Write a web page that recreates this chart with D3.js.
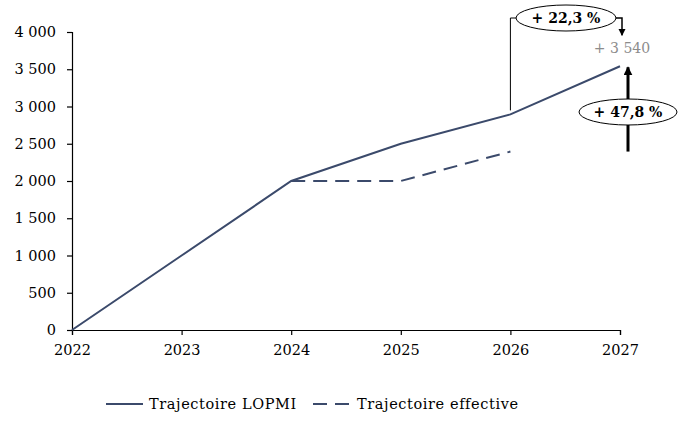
<!DOCTYPE html>
<html><head><meta charset="utf-8">
<script src="https://cdn.jsdelivr.net/npm/d3@7"></script>
<style>body{margin:0;background:#fff}svg{display:block}</style>
</head><body><svg id="c" width="680" height="426"></svg>
<script>
const years = [2022, 2023, 2024, 2025, 2026, 2027];
const lopmi = [0, 1000, 2000, 2500, 2894, 3540];
const effYears = [2024, 2025, 2026];
const effective = [2000, 2000, 2395];
const yTicks = [0, 500, 1000, 1500, 2000, 2500, 3000, 3500, 4000];
const labels = {pct1: "+ 22,3 %", total: "+ 3 540", pct2: "+ 47,8 %"};
const seriesNames = ["Trajectoire LOPMI", "Trajectoire effective"];

const svg = d3.select("#c");
const font = "'DejaVu Serif', serif";
const color = "#3b4a6b";
const x = d3.scaleLinear().domain([2022, 2027]).range([72, 620]);
const y = d3.scaleLinear().domain([0, 4000]).range([330, 32]);
const fmt = v => d3.format(",")(v).replace(/,/g, " ");

const yAxis = svg.append("g").attr("transform", "translate(72,0)")
  .call(d3.axisLeft(y).tickValues(yTicks).tickFormat(fmt).tickSize(5).tickPadding(11));
const xAxis = svg.append("g").attr("transform", "translate(0,330)")
  .call(d3.axisBottom(x).tickValues(years).tickFormat(d3.format("d")).tickSize(5).tickPadding(8));
[yAxis, xAxis].forEach(a => {
  a.selectAll("text").attr("font-family", font).attr("font-size", 14.5).attr("fill", "#000");
  a.selectAll("line,path").attr("stroke", "#000").attr("stroke-width", 1.2);
});
xAxis.selectAll("text").attr("dy", "0.85em");

const line = d3.line().x(d => x(d[0])).y(d => y(d[1]));
svg.append("path").datum(years.map((yr, i) => [yr, lopmi[i]]))
  .attr("d", line).attr("fill", "none").attr("stroke", color).attr("stroke-width", 2);
svg.append("path").datum(effYears.map((yr, i) => [yr, effective[i]]))
  .attr("d", line).attr("fill", "none").attr("stroke", color).attr("stroke-width", 2)
  .attr("stroke-dasharray", "14,8");

// annotations
const defs = svg.append("defs");
defs.append("marker").attr("id", "ah").attr("viewBox", "0 0 10 10").attr("refX", 9).attr("refY", 5)
  .attr("markerWidth", 5).attr("markerHeight", 5).attr("orient", "auto")
  .append("path").attr("d", "M0,0L10,5L0,10z").attr("fill", "#000");
defs.append("marker").attr("id", "ah2").attr("viewBox", "0 0 10 10").attr("refX", 9).attr("refY", 5)
  .attr("markerWidth", 3).attr("markerHeight", 3).attr("orient", "auto")
  .append("path").attr("d", "M0,0L10,5L0,10z").attr("fill", "#000");

const x26 = x(2026), x27 = x(2027);
const e1x = 566, e1y = 18;
svg.append("path").attr("d", `M${x26},${y(lopmi[4]) - 4}V${e1y}H${e1x - 45}`)
  .attr("fill", "none").attr("stroke", "#000").attr("stroke-width", 1);
svg.append("path").attr("d", `M${e1x + 45},${e1y}H${x27 + 2}V${y(3540) - 31}`)
  .attr("fill", "none").attr("stroke", "#000").attr("stroke-width", 1.5).attr("marker-end", "url(#ah)");
svg.append("ellipse").attr("cx", e1x).attr("cy", e1y).attr("rx", 50).attr("ry", 13)
  .attr("fill", "#fff").attr("stroke", "#000").attr("stroke-width", 1);
svg.append("text").attr("x", e1x).attr("y", e1y + 5).attr("text-anchor", "middle")
  .attr("font-family", font).attr("font-size", 14).attr("font-weight", "bold").text(labels.pct1);

svg.append("text").attr("x", x27 + 2).attr("y", y(3540) - 13).attr("text-anchor", "middle")
  .attr("font-family", font).attr("font-size", 14).attr("fill", "#8c8c8c").text(labels.total);

const ax = 628;
svg.append("line").attr("x1", ax).attr("x2", ax).attr("y1", y(effective[2])).attr("y2", y(3540) + 1)
  .attr("stroke", "#000").attr("stroke-width", 3).attr("marker-end", "url(#ah2)");
svg.append("ellipse").attr("cx", ax).attr("cy", 112).attr("rx", 49).attr("ry", 13)
  .attr("fill", "#fff").attr("stroke", "#000").attr("stroke-width", 1);
svg.append("text").attr("x", ax).attr("y", 117).attr("text-anchor", "middle")
  .attr("font-family", font).attr("font-size", 14).attr("font-weight", "bold").text(labels.pct2);

// legend
const lg = svg.append("g");
lg.append("line").attr("x1", 106).attr("x2", 143).attr("y1", 404).attr("y2", 404)
  .attr("stroke", color).attr("stroke-width", 2);
lg.append("text").attr("x", 149).attr("y", 409).attr("font-family", font).attr("font-size", 14.5)
  .attr("letter-spacing", 0.6).text(seriesNames[0]);
lg.append("line").attr("x1", 313).attr("x2", 349).attr("y1", 404).attr("y2", 404)
  .attr("stroke", color).attr("stroke-width", 2).attr("stroke-dasharray", "14,8");
lg.append("text").attr("x", 357).attr("y", 409).attr("font-family", font).attr("font-size", 14.5)
  .attr("letter-spacing", 0.6).text(seriesNames[1]);
</script></body></html>
